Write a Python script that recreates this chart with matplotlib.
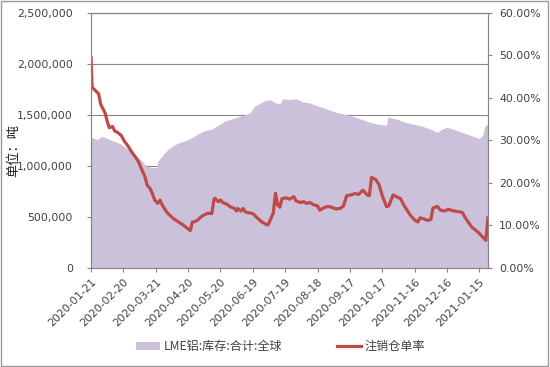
import pandas as pd
import matplotlib.pyplot as plt
import matplotlib.ticker as mticker
from matplotlib.patches import Rectangle

plt.rcParams["font.family"] = ["DejaVu Sans", "Noto Sans CJK SC"]

# LME aluminium stocks (tonnes)
stock_dates = [
    "2020-01-21", "2020-01-24", "2020-01-27", "2020-01-31", "2020-02-03", "2020-02-07",
    "2020-02-12", "2020-02-17", "2020-02-21", "2020-02-25", "2020-03-01", "2020-03-05",
    "2020-03-09", "2020-03-12", "2020-03-16", "2020-03-20", "2020-03-22", "2020-03-23",
    "2020-03-27", "2020-04-01", "2020-04-06", "2020-04-12", "2020-04-18", "2020-04-24",
    "2020-04-30", "2020-05-06", "2020-05-12", "2020-05-18", "2020-05-24", "2020-05-30",
    "2020-06-05", "2020-06-11", "2020-06-16", "2020-06-21", "2020-06-25", "2020-06-30",
    "2020-07-05", "2020-07-10", "2020-07-14", "2020-07-17", "2020-07-23", "2020-07-29",
    "2020-08-04", "2020-08-10", "2020-08-18", "2020-08-26", "2020-09-03", "2020-09-11",
    "2020-09-19", "2020-09-27", "2020-10-05", "2020-10-13", "2020-10-21", "2020-10-22",
    "2020-10-30", "2020-11-07", "2020-11-15", "2020-11-23", "2020-12-01", "2020-12-07",
    "2020-12-11", "2020-12-16", "2020-12-22", "2020-12-30", "2021-01-07", "2021-01-15",
    "2021-01-18", "2021-01-20", "2021-01-23",
]
stock_values = [
    1285000, 1270000, 1260000, 1290000, 1280000, 1260000,
    1240000, 1220000, 1190000, 1160000, 1120000, 1080000,
    1040000, 1000000, 990000, 985000, 980000, 1050000,
    1100000, 1160000, 1200000, 1230000, 1250000, 1280000,
    1320000, 1350000, 1360000, 1400000, 1440000, 1460000,
    1480000, 1500000, 1520000, 1590000, 1610000, 1640000,
    1650000, 1620000, 1610000, 1660000, 1650000, 1660000,
    1630000, 1620000, 1590000, 1560000, 1530000, 1510000,
    1490000, 1460000, 1430000, 1410000, 1400000, 1480000,
    1460000, 1430000, 1410000, 1390000, 1360000, 1330000,
    1360000, 1380000, 1360000, 1330000, 1300000, 1270000,
    1300000, 1390000, 1410000,
]

# cancelled warrant ratio (%)
ratio_dates = [
    "2020-01-21", "2020-01-22", "2020-01-24", "2020-01-28", "2020-01-30", "2020-02-03",
    "2020-02-05", "2020-02-07", "2020-02-10", "2020-02-12", "2020-02-14", "2020-02-18",
    "2020-02-21", "2020-02-24", "2020-02-28", "2020-03-03", "2020-03-05", "2020-03-09",
    "2020-03-11", "2020-03-13", "2020-03-16", "2020-03-18", "2020-03-20", "2020-03-23",
    "2020-03-25", "2020-03-27", "2020-03-31", "2020-04-03", "2020-04-07", "2020-04-10",
    "2020-04-15", "2020-04-20", "2020-04-22", "2020-04-24", "2020-04-27", "2020-04-29",
    "2020-05-01", "2020-05-04", "2020-05-06", "2020-05-08", "2020-05-12", "2020-05-14",
    "2020-05-15", "2020-05-18", "2020-05-20", "2020-05-22", "2020-05-26", "2020-05-29",
    "2020-06-02", "2020-06-04", "2020-06-05", "2020-06-08", "2020-06-10", "2020-06-12",
    "2020-06-15", "2020-06-19", "2020-06-23", "2020-06-27", "2020-07-01", "2020-07-03",
    "2020-07-06", "2020-07-08", "2020-07-10", "2020-07-12", "2020-07-14", "2020-07-16",
    "2020-07-20", "2020-07-23", "2020-07-27", "2020-07-29", "2020-08-02", "2020-08-05",
    "2020-08-08", "2020-08-11", "2020-08-14", "2020-08-18", "2020-08-20", "2020-08-24",
    "2020-08-28", "2020-08-31", "2020-09-04", "2020-09-08", "2020-09-11", "2020-09-14",
    "2020-09-18", "2020-09-22", "2020-09-25", "2020-09-29", "2020-10-03", "2020-10-05",
    "2020-10-07", "2020-10-11", "2020-10-14", "2020-10-17", "2020-10-21", "2020-10-23",
    "2020-10-27", "2020-10-30", "2020-11-03", "2020-11-06", "2020-11-09", "2020-11-12",
    "2020-11-16", "2020-11-19", "2020-11-21", "2020-11-24", "2020-11-28", "2020-12-01",
    "2020-12-03", "2020-12-07", "2020-12-10", "2020-12-14", "2020-12-17", "2020-12-21",
    "2020-12-25", "2020-12-30", "2021-01-02", "2021-01-05", "2021-01-08", "2021-01-11",
    "2021-01-14", "2021-01-18", "2021-01-21", "2021-01-23",
]
ratio_values = [
    49.5, 42.5, 42.0, 41.0, 38.5, 36.5,
    34.5, 33.0, 33.3, 32.2, 32.0, 31.2,
    29.8, 28.8, 27.2, 25.8, 25.0, 22.6,
    21.5, 19.5, 18.6, 17.4, 16.0, 15.2,
    16.0, 14.8, 13.2, 12.4, 11.5, 11.0,
    10.2, 9.2, 8.8, 10.8, 11.0, 11.3,
    11.8, 12.4, 12.6, 12.9, 12.8, 16.2,
    16.4, 15.6, 16.0, 15.4, 15.0, 14.4,
    14.0, 13.4, 14.0, 13.4, 14.0, 13.2,
    13.0, 12.8, 11.8, 10.9, 10.3, 10.1,
    11.8, 13.0, 17.6, 14.8, 14.3, 16.3,
    16.5, 16.2, 16.8, 15.8, 15.4, 15.6,
    15.2, 15.4, 14.9, 14.6, 13.6, 14.2,
    14.5, 14.3, 13.9, 14.0, 14.6, 17.0,
    17.2, 17.5, 17.3, 18.3, 17.2, 17.0,
    21.3, 20.8, 19.6, 17.0, 14.4, 14.6,
    17.2, 16.8, 16.3, 14.8, 13.6, 12.4,
    11.3, 10.8, 11.8, 11.6, 11.2, 11.4,
    14.1, 14.5, 13.6, 13.4, 13.8, 13.5,
    13.3, 13.1, 11.8, 10.7, 9.6, 9.0,
    8.4, 7.3, 6.5, 11.8,
]

tick_labels = [
    "2020-01-21", "2020-02-20", "2020-03-21", "2020-04-20", "2020-05-20",
    "2020-06-19", "2020-07-19", "2020-08-18", "2020-09-17", "2020-10-17",
    "2020-11-16", "2020-12-16", "2021-01-15",
]

stock_label = "LME铝:库存:合计:全球"
ratio_label = "注销仓单率"


def main():
    fig = plt.figure(figsize=(5.5, 3.67), dpi=100)
    ax = fig.add_axes([0.1655, 0.2698, 0.7218, 0.6948])
    ax2 = ax.twinx()

    grey = "#868686"
    text_color = "#404040"

    sd = pd.to_datetime(stock_dates)
    rd = pd.to_datetime(ratio_dates)

    ax.fill_between(sd, stock_values, color="#CCC1DA", lw=0, label=stock_label)
    ax2.plot(rd, ratio_values, color="#BE4B48", lw=2.3, label=ratio_label,
             solid_joinstyle="round")

    ax.set_ylim(0, 2500000)
    ax.set_yticks(range(0, 2500001, 500000))
    ax.yaxis.set_major_formatter(mticker.FuncFormatter(lambda v, p: f"{v:,.0f}"))
    ax.grid(True, axis="y", color=grey, lw=0.8)
    ax.set_axisbelow(True)

    ax2.set_ylim(0, 60)
    ax2.set_yticks(range(0, 61, 10))
    ax2.yaxis.set_major_formatter(mticker.FuncFormatter(lambda v, p: f"{v:.2f}%"))

    ticks = pd.to_datetime(tick_labels)
    ax.set_xlim(pd.Timestamp("2020-01-21"), pd.Timestamp("2021-01-23"))
    ax.set_xticks(ticks)
    ax.set_xticklabels(tick_labels, rotation=45, ha="right", rotation_mode="anchor")

    for a in (ax, ax2):
        for s in a.spines.values():
            s.set_color(grey)
            s.set_linewidth(0.8)
        a.tick_params(colors=grey, labelcolor=text_color, labelsize=7.8,
                      length=3, width=0.8, direction="out")
    ax.tick_params(axis="y", pad=10)
    ax2.tick_params(axis="y", pad=5)

    ax.set_ylabel("单位：吨", family=["Noto Sans CJK SC", "DejaVu Sans"],
                  fontsize=9.5, color="#202020")
    ax.yaxis.set_label_coords(-0.178, 0.46)

    h1, l1 = ax.get_legend_handles_labels()
    h2, l2 = ax2.get_legend_handles_labels()
    fig.legend(h1 + h2, l1 + l2, loc="center", bbox_to_anchor=(0.51, 0.055),
               ncol=2, frameon=False, columnspacing=4.5, handlelength=2.0,
               handletextpad=0.3,
               prop={"family": ["Noto Sans CJK SC", "DejaVu Sans"], "size": 8.7},
               labelcolor=text_color)

    fig.patches.append(Rectangle((0.002, 0.003), 0.995, 0.994, transform=fig.transFigure,
                                 fill=False, edgecolor="#9A9A9A", lw=1.0))

    fig.savefig("out.png", dpi=100, facecolor="white")


if __name__ == "__main__":
    main()
